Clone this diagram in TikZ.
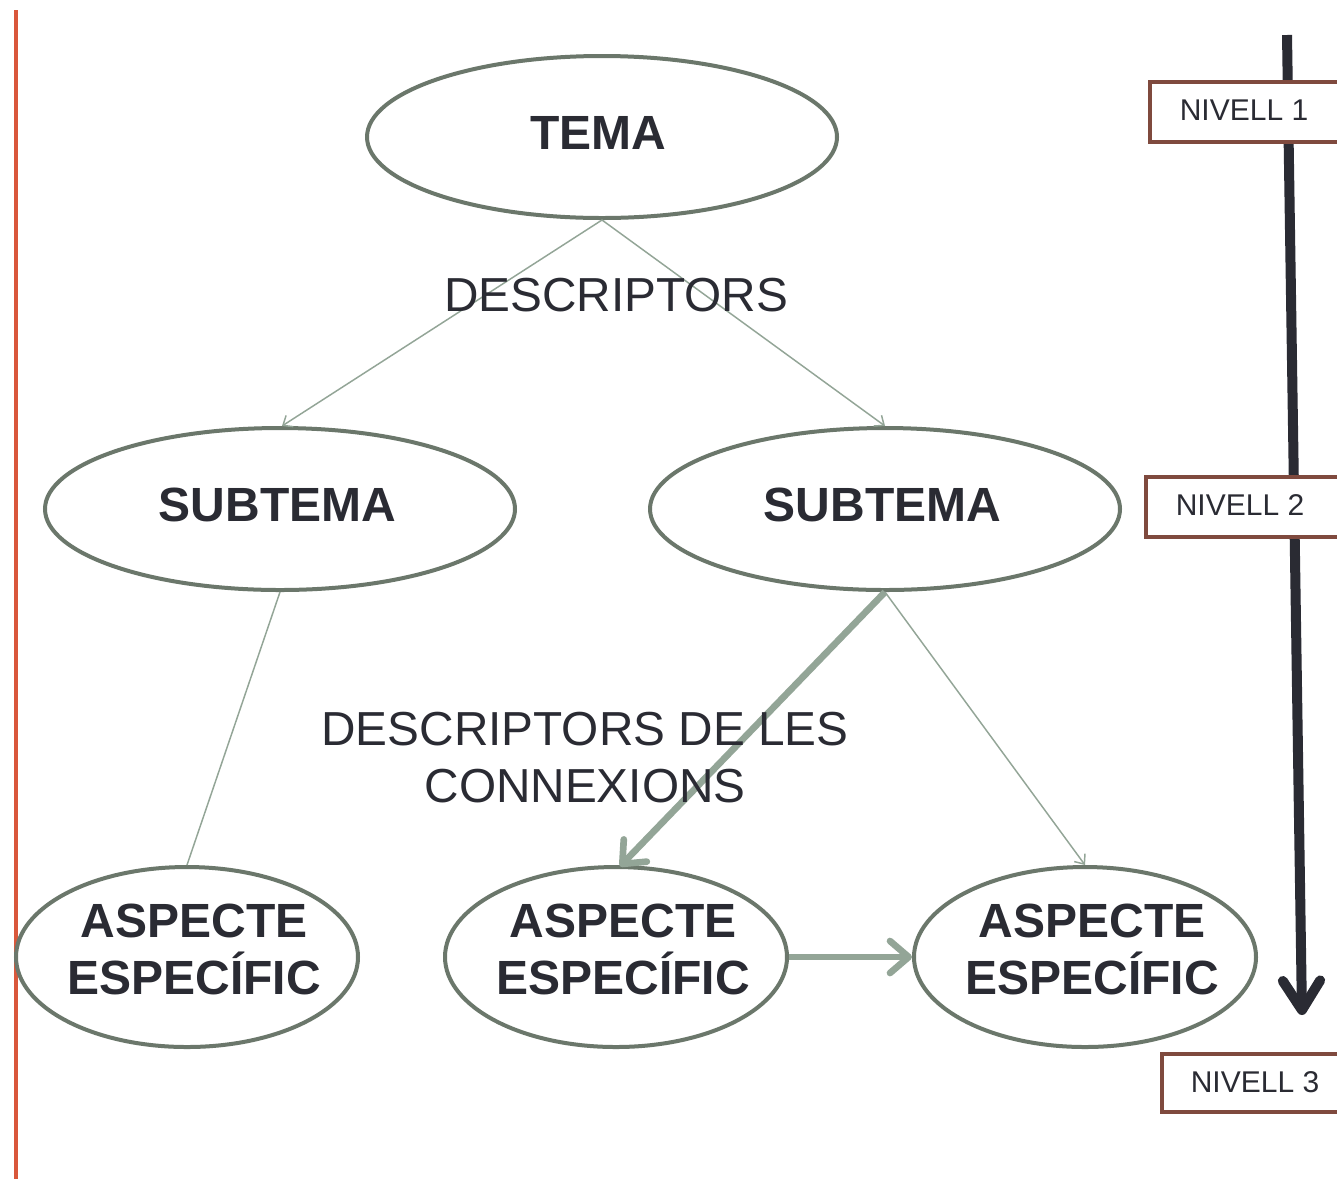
\documentclass[tikz,border=0pt]{standalone}
\usepackage{fontspec}
\setmainfont{Liberation Sans}
\usetikzlibrary{shapes.geometric,arrows.meta}
\definecolor{ringc}{HTML}{6B776B}
\definecolor{linkc}{HTML}{93A597}
\definecolor{inkc}{HTML}{2A2B33}
\definecolor{redc}{HTML}{D9573B}
\definecolor{boxc}{HTML}{7F4A3E}
\tikzset{
  big/.style={ellipse, draw=ringc, line width=3pt, fill=white, inner sep=0pt},
  bigA/.style={big, minimum width=352.5pt, minimum height=121.5pt},
  bigB/.style={big, minimum width=256.5pt, minimum height=135pt},
  bigtxt/.style={text=inkc, font=\fontsize{36}{42.75}\selectfont\bfseries, align=center, inner sep=0pt},
  thinlink/.style={draw=linkc, line width=1.1pt, -{Straight Barb[length=6pt,width=10pt]}},
  plainlink/.style={draw=linkc, line width=1.1pt},
  thicklink/.style={draw=linkc, line width=5pt, -{Straight Barb[length=14pt,width=24pt,round]}},
  lbl/.style={text=inkc, font=\fontsize{35.8}{42.75}\selectfont, align=center, inner sep=0pt},
  lvl/.style={draw=boxc, line width=3pt, fill=white, inner sep=0pt, anchor=north west},
  lvltxt/.style={text=inkc, font=\fontsize{22.5}{26}\selectfont, inner sep=0pt}
}
\begin{document}
\begin{tikzpicture}[x=0.75pt,y=-0.75pt]
\clip (0,0) rectangle (1337,1179);
\useasboundingbox (0,0) rectangle (1337,1179);
\fill[white] (0,0) rectangle (1337,1179);
% left red rule
\coordinate (r1) at (16,10);
\coordinate (r2) at (16,1179);
\draw[redc, line width=3pt] (r1) -- (r2);
% level arrow
\coordinate (a1) at (1287,35);
\coordinate (a2) at (1302,1015);
\draw[inkc, line width=7.5pt, -{Straight Barb[length=22pt,width=28pt,round]}] (a1) -- (a2);
% level boxes
\node[lvl, minimum width=150pt, minimum height=45pt] (n1) at (1148,80) {};
\node[lvltxt] (t1) at (1244,110) {NIVELL 1};
\node[lvl, minimum width=153pt, minimum height=45pt] (n2) at (1144,475) {};
\node[lvltxt] (t2) at (1240,505) {NIVELL 2};
\node[lvl, minimum width=141pt, minimum height=43.5pt] (n3) at (1160,1052) {};
\node[lvltxt] (t3) at (1255,1082) {NIVELL 3};
% nodes
\node[bigA] (tema) at (602,137) {};
\node[bigA] (s1) at (280,509) {};
\node[bigA] (s2) at (885,509) {};
\node[bigB] (e1) at (187,957) {};
\node[bigB] (e2) at (616,957) {};
\node[bigB] (e3) at (1085,957) {};
\node[bigtxt] (temat) at (598.5,133) {TEMA};
\node[bigtxt] (s1t) at (277.5,505) {SUBTEMA};
\node[bigtxt] (s2t) at (882.5,505) {SUBTEMA};
\node[bigtxt] (e1t) at (194,949.5) {ASPECTE\\ESPECÍFIC};
\node[bigtxt] (e2t) at (623,949.5) {ASPECTE\\ESPECÍFIC};
\node[bigtxt] (e3t) at (1092,949.5) {ASPECTE\\ESPECÍFIC};
% connectors
\draw[thinlink] (tema.south) -- ([xshift=1.5pt]s1.north);
\draw[thinlink] (tema.south) -- (s2.north);
\draw[plainlink] (s1.south) -- (e1.north);
\draw[thinlink] (s2.south) -- (e3.north);
\draw[thicklink] (s2.south) -- ([xshift=3pt,yshift=-1pt]e2.north);
\draw[thicklink] (e2.east) -- (e3.west);
% labels
\node[lbl] (d1) at (616,295) {DESCRIPTORS};
\node[lbl] (d2) at (585,758) {DESCRIPTORS DE LES\\CONNEXIONS};
\end{tikzpicture}
\end{document}
